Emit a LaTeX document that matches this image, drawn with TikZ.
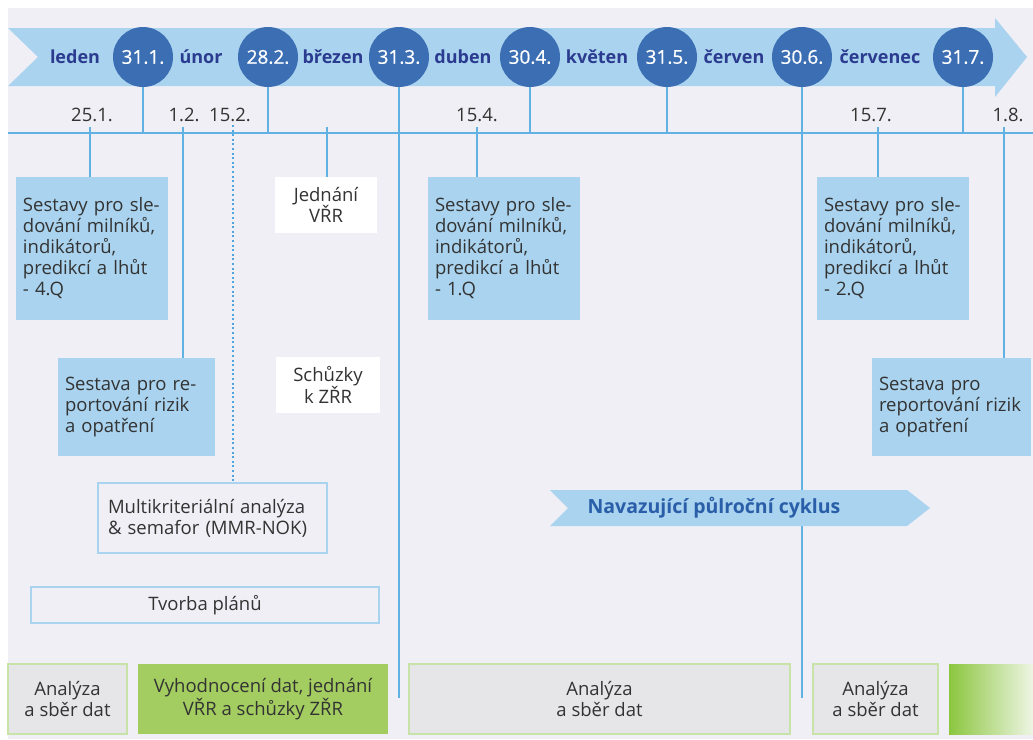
\documentclass[tikz,border=0pt]{standalone}
\usepackage{fontspec}
\setmainfont{Open Sans}
\newfontfamily\datefont[FakeBold=0.8]{Open Sans}
\usepackage{tikz}

\definecolor{bggrey}{HTML}{EFEFF5}
\definecolor{ribbon}{HTML}{A9D3EE}
\definecolor{dot}{HTML}{3C6EB4}
\definecolor{month}{HTML}{2B3B8F}
\definecolor{rule}{HTML}{62B1E3}
\definecolor{ink}{HTML}{333333}
\definecolor{cell}{HTML}{E6E6E8}
\definecolor{leaf}{HTML}{A3CD60}
\definecolor{leafline}{HTML}{C8E3A8}
\definecolor{navy}{HTML}{2A5EA9}
\definecolor{leafdark}{HTML}{8CC63F}
\definecolor{leaflight}{HTML}{EEF5E4}
\definecolor{dotline}{HTML}{4CA6E0}

\begin{document}
\begin{tikzpicture}[x=1pt, y=-1pt,
      every node/.style={font=\fontsize{18.5}{21}\selectfont, text=ink, inner sep=0pt},
      day/.style={circle, fill=dot, minimum size=60pt, text=white, font=\fontsize{19}{21}\selectfont\datefont},
      mon/.style={text=month, font=\fontsize{18}{21}\selectfont\bfseries},
      note/.style={fill=ribbon, align=left, inner xsep=7pt},
      memo/.style={fill=white, align=center},
      frame/.style={draw=ribbon, line width=2pt},
      phase/.style={fill=cell, draw=leafline, line width=2pt, align=center},
      stem/.style={draw=rule, line width=1.2pt}]
      \useasboundingbox (0,0) rectangle (1033,739);
      \fill [bggrey] (8,8) rectangle (1033,739);
      \fill [ribbon] (8,28) -- (995,28) -- (995,18) -- (1027,57) -- (995,97) -- (995,86) -- (8,86) -- (38,57) -- cycle;

      \coordinate (axisL) at (8,133);
      \coordinate (axisR) at (1033,133);
      \coordinate (foot) at (8,698);
      \draw [stem] (axisL) to (axisR);

      \node [day] (d311) at (143,57) {31.1.};
      \node [day] (d282) at (268,57) {28.2.};
      \node [day] (d313) at (399,57) {31.3.};
      \node [day] (d304) at (530,57) {30.4.};
      \node [day] (d315) at (667,57) {31.5.};
      \node [day] (d306) at (802,57) {30.6.};
      \node [day] (d317) at (963,57) {31.7.};

      \node [mon] (leden) at (75,57) {leden};
      \node [mon] (unor) at (201,57) {únor};
      \node [mon] (brezen) at (333,57) {březen};
      \node [mon] (duben) at (463,57) {duben};
      \node [mon] (kveten) at (597,57) {květen};
      \node [mon] (cerven) at (734,57) {červen};
      \node [mon] (cervenec) at (880,57) {červenec};

      \node (l251) at (92,115) {25.1.};
      \node (l12) at (184,115) {1.2.};
      \node (l152) at (230,115) {15.2.};
      \node (l154) at (477,115) {15.4.};
      \node (l157) at (871,115) {15.7.};
      \node (l18) at (1008,115) {1.8.};

      \coordinate (t251) at (90,127);
      \coordinate (t12) at (183,127);
      \coordinate (t152) at (233,125);
      \coordinate (tjed) at (327,127);
      \coordinate (t154) at (477,127);
      \coordinate (t157) at (878,127);
      \coordinate (t18) at (1004,127);

      \node [note, text width=138pt, minimum height=143pt] (sestA) at (92,248.5) {Sestavy pro sle-\\dování milníků,\\indikátorů,\\predikcí a lhůt\\- 4.Q};
      \node [note, text width=143pt, minimum height=98pt] (sestB) at (136.5,407) {Sestava pro re-\\portování rizik\\a opatření};
      \node [memo, minimum width=102pt, minimum height=56pt] (jednani) at (326,205) {Jednání\\VŘR};
      \node [memo, minimum width=104pt, minimum height=56pt] (schuzky) at (328,385) {Schůzky\\k ZŘR};
      \node [note, text width=138pt, minimum height=143pt] (sest1) at (504,248.5) {Sestavy pro sle-\\dování milníků,\\indikátorů,\\predikcí a lhůt\\- 1.Q};
      \node [note, text width=138pt, minimum height=143pt] (sest2) at (893,248.5) {Sestavy pro sle-\\dování milníků,\\indikátorů,\\predikcí a lhůt\\- 2.Q};
      \node [note, text width=145pt, minimum height=98pt] (sestR) at (951.5,407) {Sestava pro\\reportování rizik\\a opatření};
      \node [frame, align=left, inner xsep=10pt, text width=209pt, minimum height=70pt] (multi) at (212.5,518) {Multikriteriální analýza\\\& semafor (MMR-NOK)};
      \node [frame, minimum width=348pt, minimum height=36pt] (plany) at (205,605) {Tvorba plánů};

      \draw [stem] (d311.south) to (d311 |- axisL);
      \draw [stem] (d282.south) to (d282 |- axisL);
      \draw [stem] (d304.south) to (d304 |- axisL);
      \draw [stem] (d315.south) to (d315 |- axisL);
      \draw [stem] (d317.south) to (d317 |- axisL);
      \draw [stem] (d313.south) to (d313 |- foot);
      \draw [stem] (d306.south) to (d306 |- foot);

      \draw [stem] (t251) to (t251 |- sestA.north);
      \draw [stem] (t12) to (t12 |- sestB.north);
      \draw [stem] (tjed) to (tjed |- jednani.north);
      \draw [stem] (t154) to (t154 |- sest1.north);
      \draw [stem] (t157) to (t157 |- sest2.north);
      \draw [stem] (t18) to (t18 |- sestR.north);
      \draw [draw=dotline, line width=2.2pt, dash pattern=on 2pt off 2.6pt] (t152) to (t152 |- multi.north);

      \fill [ribbon] (550,490) -- (907,490) -- (930,508) -- (907,526) -- (550,526) -- (568,508) -- cycle;
      \node [text=navy, font=\fontsize{19.5}{21}\selectfont\bfseries] (cyklus) at (714,508) {Navazující půlroční cyklus};

      \node [phase, minimum width=119pt, minimum height=70pt] (sber1) at (67.5,699) {Analýza\\a sběr dat};
      \node [fill=leaf, align=center, minimum width=250pt, minimum height=70pt] (vyhod) at (263,699) {Vyhodnocení dat, jednání\\VŘR a schůzky ZŘR};
      \node [phase, minimum width=381pt, minimum height=70pt] (sber2) at (599.5,699) {Analýza\\a sběr dat};
      \node [phase, minimum width=125pt, minimum height=70pt] (sber3) at (875.5,699) {Analýza\\a sběr dat};
      \shade [left color=leafdark, right color=leaflight] (949,664) rectangle (1033,734);
    \end{tikzpicture}
\end{document}
